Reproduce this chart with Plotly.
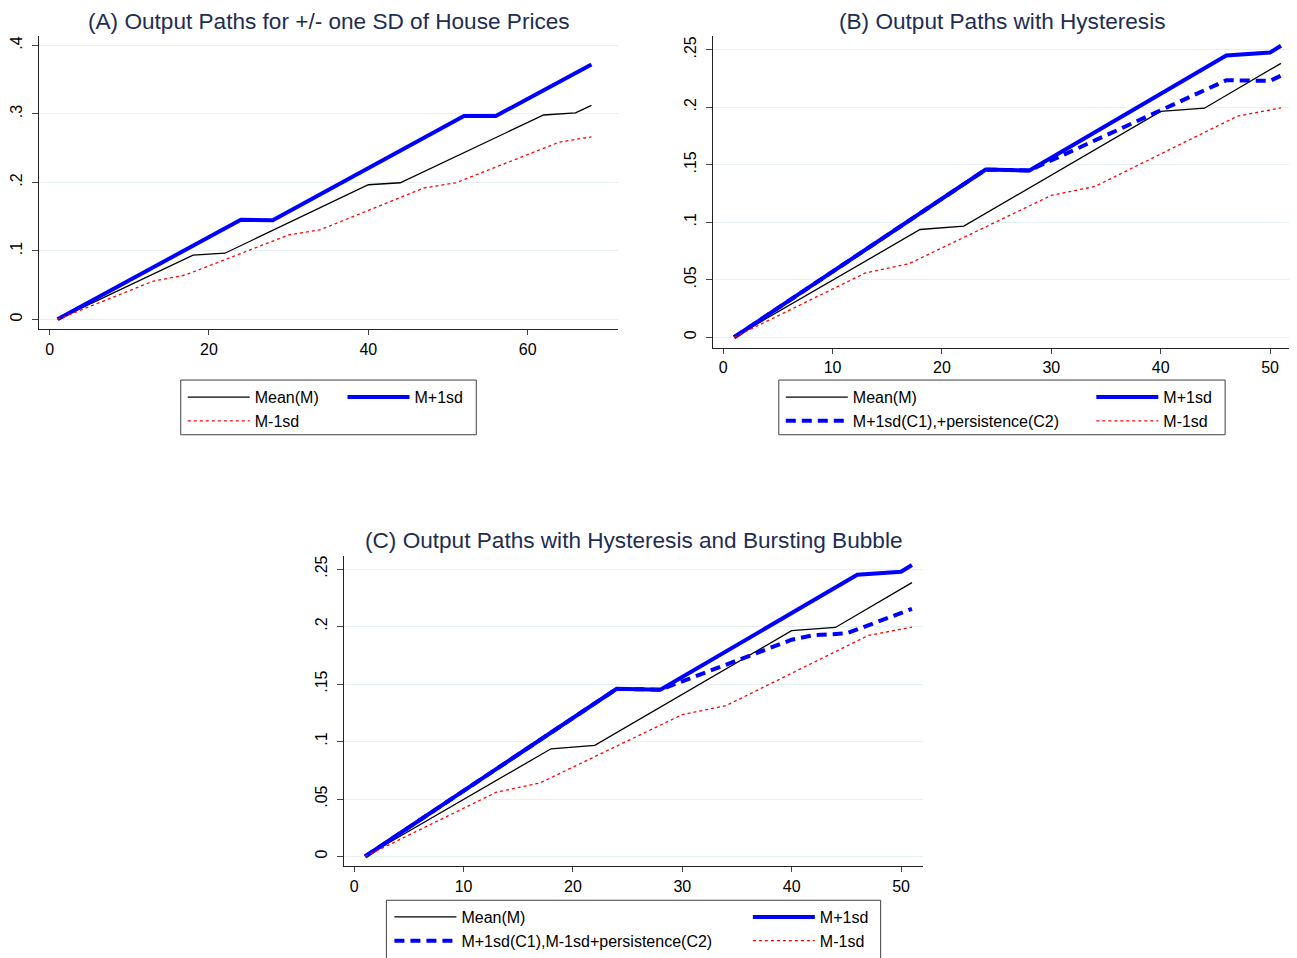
import plotly.graph_objects as go

W, H = 1297, 958          # browser window
OX, OY = 8, 8             # default page body margin
FW, FH = W - OX, H - OY   # figure size

# ---------------- data ----------------
# Panel A
a_mean_x = [1, 18, 22, 40, 44, 62, 66, 68]
a_mean_y = [0, 0.0937, 0.0966, 0.1966, 0.1995, 0.2985, 0.3015, 0.3126]
a_up_x = [1, 24, 28, 52, 56, 68]
a_up_y = [0, 0.1456, 0.1447, 0.2971, 0.2971, 0.3723]
a_dn_x = [1, 13, 17, 30, 34, 47, 51, 64, 68]
a_dn_y = [0, 0.0558, 0.0646, 0.1233, 0.1310, 0.1920, 0.1995, 0.2590, 0.2665]

# Panels B and C (common paths)
bc_mean_x = [1, 18, 22, 40, 44, 51]
bc_mean_y = [0, 0.0937, 0.0966, 0.1964, 0.1992, 0.2382]
bc_up_x = [1, 24, 28, 46, 50, 51]
bc_up_y = [0, 0.1458, 0.1451, 0.2450, 0.2476, 0.2535]
bc_dn_x = [1, 13, 17, 30, 34, 47, 51]
bc_dn_y = [0, 0.0559, 0.0640, 0.1234, 0.1312, 0.1922, 0.1995]

# Panel B hysteresis path
b_hys_x = [1, 24, 28, 46, 50, 51]
b_hys_y = [0, 0.1458, 0.1451, 0.2235, 0.2230, 0.2275]

# Panel C hysteresis + bursting bubble path
c_hys_x = [1, 24, 28, 40, 42, 45, 51]
c_hys_y = [0, 0.1458, 0.1451, 0.1885, 0.1925, 0.1940, 0.2153]

titles = [
    "(A) Output Paths for +/- one SD of House Prices",
    "(B) Output Paths with Hysteresis",
    "(C) Output Paths with Hysteresis and Bursting Bubble",
]
name_mean = "Mean(M)"
name_up = "M+1sd"
name_dn = "M-1sd"
name_b_hys = "M+1sd(C1),+persistence(C2)"
name_c_hys = "M+1sd(C1),M-1sd+persistence(C2)"

a_xtick_vals = [0, 20, 40, 60]
a_ytick_vals = [0, 0.1, 0.2, 0.3, 0.4]
a_ytick_text = ["0", ".1", ".2", ".3", ".4"]
bc_xtick_vals = [0, 10, 20, 30, 40, 50]
bc_ytick_vals = [0, 0.05, 0.1, 0.15, 0.2, 0.25]
bc_ytick_text = ["0", ".05", ".1", ".15", ".2", ".25"]

# ---------------- styling ----------------
FONT = "Liberation Sans, Arial, Helvetica, sans-serif"
BLACK = "#000000"
BLUE = "#0000FF"
RED = "#FF0000"
TITLE_COLOR = "#1E2D53"
GRID = "#E6EFF1"

mean_line = dict(color=BLACK, width=1.3)
up_line = dict(color=BLUE, width=4)
hys_line = dict(color=BLUE, width=4, dash="10px,6px")
dn_line = dict(color=RED, width=1.3, dash="3px,3px")

fig = go.Figure()

def add(x, y, name, line, xa, ya, legend):
    fig.add_trace(go.Scatter(x=x, y=y, mode="lines", name=name, line=line,
                             xaxis=xa, yaxis=ya, legend=legend,
                             hoverinfo="skip"))

# Panel A
add(a_mean_x, a_mean_y, name_mean, mean_line, "x", "y", "legend")
add(a_up_x, a_up_y, name_up, up_line, "x", "y", "legend2")
add(a_dn_x, a_dn_y, name_dn, dn_line, "x", "y", "legend")
# Panel B
add(bc_mean_x, bc_mean_y, name_mean, mean_line, "x2", "y2", "legend3")
add(bc_up_x, bc_up_y, name_up, up_line, "x2", "y2", "legend4")
add(b_hys_x, b_hys_y, name_b_hys, hys_line, "x2", "y2", "legend3")
add(bc_dn_x, bc_dn_y, name_dn, dn_line, "x2", "y2", "legend4")
# Panel C
add(bc_mean_x, bc_mean_y, name_mean, mean_line, "x3", "y3", "legend5")
add(bc_up_x, bc_up_y, name_up, up_line, "x3", "y3", "legend6")
add(c_hys_x, c_hys_y, name_c_hys, hys_line, "x3", "y3", "legend5")
add(bc_dn_x, bc_dn_y, name_dn, dn_line, "x3", "y3", "legend6")

# page-pixel helpers
def px(x):
    return (x - OX) / FW

def py(y):
    return 1 - (y - OY) / FH

# panel geometry in page pixels: left, right, top, bottom
panels = {
    "A": (37.3, 616.7, 36.0, 331.0),
    "B": (712.3, 1291.7, 36.4, 349.3),
    "C": (342.7, 922.1, 558.4, 871.0),
}

def xdom(p):
    l, r, t, b = panels[p]
    return [px(l), min(px(r), 1.0)]

def ydom(p):
    l, r, t, b = panels[p]
    return [py(b), py(t)]

def xaxis(p, rng, ticks, anchor):
    return dict(domain=xdom(p), range=rng, anchor=anchor, tickvals=ticks,
                showline=True, linecolor="#222222", linewidth=1,
                ticks="outside", ticklen=5, tickcolor="#444444",
                showgrid=False, zeroline=False,
                tickfont=dict(family=FONT, size=16, color=BLACK))

def yaxis(p, rng, vals, text, anchor):
    return dict(domain=ydom(p), range=rng, anchor=anchor, tickvals=vals,
                ticktext=text, tickangle=-90, ticklabelstandoff=4,
                showline=True, linecolor="#222222", linewidth=1,
                ticks="outside", ticklen=6, tickcolor="#444444",
                showgrid=True, gridcolor=GRID, gridwidth=1.2, zeroline=False,
                tickfont=dict(family=FONT, size=16, color=BLACK))

def legend(origin_x, top_y):
    return dict(x=px(origin_x), y=py(top_y), xanchor="left", yanchor="top",
                orientation="v", bgcolor="rgba(0,0,0,0)", borderwidth=0,
                itemwidth=62, traceorder="normal", tracegroupgap=0,
                itemclick=False, itemdoubleclick=False,
                font=dict(family=FONT, size=16, color=BLACK))

def box(x0, x1, y0, y1):
    return dict(type="rect", xref="paper", yref="paper",
                x0=px(x0), x1=px(x1), y0=py(y1), y1=py(y0),
                line=dict(color="#404040", width=1), fillcolor="rgba(0,0,0,0)")

def title(text, cx, top):
    return dict(text=text, xref="paper", yref="paper", x=px(cx), y=py(top),
                xanchor="center", yanchor="top", showarrow=False, borderpad=0,
                font=dict(family=FONT, size=22.6, color=TITLE_COLOR))

fig.update_layout(
    width=FW, height=FH,
    margin=dict(l=0, r=0, t=0, b=0),
    paper_bgcolor="white", plot_bgcolor="white",
    hovermode=False,
    showlegend=True,
    xaxis=xaxis("A", [-1.30, 71.3], a_xtick_vals, "y"),
    yaxis=yaxis("A", [-0.01453, 0.41409], a_ytick_vals, a_ytick_text, "x"),
    xaxis2=xaxis("B", [-0.913, 51.98], bc_xtick_vals, "y2"),
    yaxis2=yaxis("B", [-0.00891, 0.26176], bc_ytick_vals, bc_ytick_text, "x2"),
    xaxis3=xaxis("C", [-0.913, 51.98], bc_xtick_vals, "y3"),
    yaxis3=yaxis("C", [-0.00865, 0.26176], bc_ytick_vals, bc_ytick_text, "x3"),
    legend=legend(181, 382.1),
    legend2=legend(341, 382.1),
    legend3=legend(780, 382.1),
    legend4=legend(1091, 382.1),
    legend5=legend(388, 905.1),
    legend6=legend(747, 905.1),
    shapes=[box(179, 475, 382, 437), box(778, 1225, 382, 437),
            box(385, 880, 905, 970)],
    annotations=[title(titles[0], 327, 8), title(titles[1], 1002, 8),
                 title(titles[2], 632.5, 530)],
)

fig.write_html("out.html", config={"displayModeBar": False})
